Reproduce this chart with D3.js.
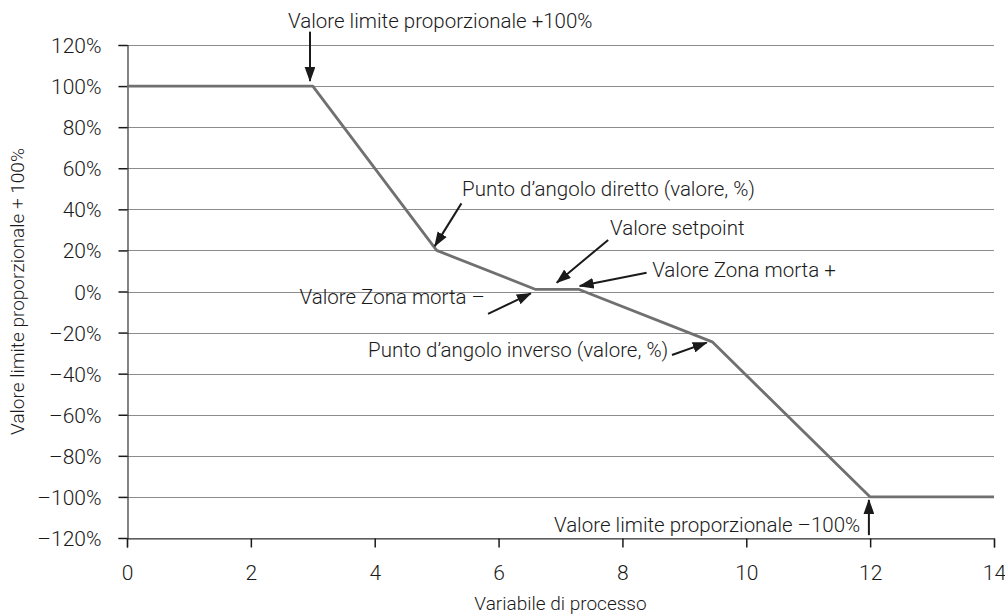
<!DOCTYPE html>
<html>
<head>
<meta charset="utf-8">
<script src="https://cdn.jsdelivr.net/npm/d3@7"></script>
<style>
  body { margin: 0; background: #fff; }
  svg { display: block; font-family: Roboto, "Liberation Sans", sans-serif; font-weight: 300; }
</style>
</head>
<body>
<div id="chart"></div>
<script>
// curve of the controller output
const processValues = [0, 3, 5, 6.6, 7.3, 9.45, 12, 14];
const outputValues = [100, 100, 20, 1, 1, -24.5, -100, -100];

const xTicks = [0, 2, 4, 6, 8, 10, 12, 14];
const yTicks = [-120, -100, -80, -60, -40, -20, 0, 20, 40, 60, 80, 100, 120];

// annotations: label, text anchor point, arrow tail, arrow tip (all in data units)
const annotationLabels = [
  "Valore limite proporzionale +100%",
  "Punto d\u2019angolo diretto (valore, %)",
  "Valore setpoint",
  "Valore Zona morta +",
  "Valore Zona morta \u2013",
  "Punto d\u2019angolo inverso (valore, %)",
  "Valore limite proporzionale \u2013100%",
];
const annotationText = [[2.6, 128.5], [5.41, 46.5], [7.8, 27.5], [8.48, 7.1], [5.78, -6.1], [8.74, -31.9], [11.84, -117.2]];
const annotationAnchor = ["start", "start", "start", "start", "end", "end", "end"];
const arrowFrom = [[2.955, 126.5], [5.40, 42.9], [7.77, 25.1], [8.39, 9.1], [5.83, -10.9], [8.80, -30.9], [11.98, -118.6]];
const arrowTo = [[2.955, 102.5], [4.97, 22.1], [6.94, 4.3], [7.31, 2.7], [6.52, -0.9], [9.36, -24.9], [11.98, -101.5]];

function createChart() {
  const width = 1005;
  const height = 616;
  const margin = { top: 45, right: 11, bottom: 78, left: 127 };
  const usable = {
    left: margin.left,
    right: width - margin.right,
    top: margin.top,
    bottom: height - margin.bottom,
  };

  const svg = d3
    .select("#chart")
    .append("svg")
    .attr("width", width)
    .attr("height", height);

  const xScale = d3.scaleLinear().domain([0, 14]).range([usable.left, usable.right]);
  const yScale = d3.scaleLinear().domain([-120, 120]).range([usable.bottom, usable.top]);

  svg
    .append("defs")
    .append("marker")
    .attr("id", "head")
    .attr("viewBox", "0 0 14 10")
    .attr("refX", 13)
    .attr("refY", 5)
    .attr("markerWidth", 15)
    .attr("markerHeight", 11)
    .attr("markerUnits", "userSpaceOnUse")
    .attr("orient", "auto")
    .append("path")
    .attr("d", "M0,0 L14,5 L0,10 z")
    .attr("fill", "#1a1a1a");

  // gridlines
  svg
    .append("g")
    .attr("class", "gridlines")
    .selectAll("line")
    .data(yTicks)
    .join("line")
    .attr("x1", usable.left)
    .attr("x2", usable.right)
    .attr("y1", (d) => Math.round(yScale(d)) + 0.5)
    .attr("y2", (d) => Math.round(yScale(d)) + 0.5)
    .style("stroke", "#8c8c8c")
    .style("stroke-width", 1);

  const yAxis = svg
    .append("g")
    .attr("transform", `translate(${usable.left + 0.5}, 0)`)
    .call(
      d3
        .axisLeft(yScale)
        .tickValues(yTicks)
        .tickSize(9)
        .tickPadding(17)
        .tickFormat((d) => (d < 0 ? "\u2013" + Math.abs(d) : d) + "%")
    );

  const xAxis = svg
    .append("g")
    .attr("transform", `translate(0, ${Math.round(usable.bottom) + 0.5})`)
    .call(d3.axisBottom(xScale).tickValues(xTicks).tickSize(9).tickPadding(18));

  [xAxis, yAxis].forEach((ax) => {
    ax.select(".domain").style("stroke", "#333").style("stroke-width", 1.2);
    ax.selectAll(".tick line").style("stroke", "#1a1a1a").style("stroke-width", 1.5);
    ax.selectAll(".tick text")
      .style("font-family", "Roboto, sans-serif")
      .style("font-weight", 300)
      .style("font-size", "21px")
      .style("fill", "#1a1a1a");
  });
  yAxis.selectAll(".tick text").attr("dy", "0.36em");

  // curve
  const line = d3
    .line()
    .x((d) => xScale(d[0]))
    .y((d) => yScale(d[1]));

  svg
    .append("path")
    .datum(d3.zip(processValues, outputValues))
    .attr("d", line)
    .attr("fill", "none")
    .style("stroke", "#707070")
    .style("stroke-width", 2.8)
    .style("stroke-linejoin", "round");

  // annotations
  const notes = svg.append("g").attr("class", "annotations");
  annotationLabels.forEach((label, i) => {
    notes
      .append("line")
      .attr("x1", xScale(arrowFrom[i][0]))
      .attr("y1", yScale(arrowFrom[i][1]))
      .attr("x2", xScale(arrowTo[i][0]))
      .attr("y2", yScale(arrowTo[i][1]))
      .style("stroke", "#1a1a1a")
      .style("stroke-width", 2)
      .attr("marker-end", "url(#head)");

    notes
      .append("text")
      .attr("x", xScale(annotationText[i][0]))
      .attr("y", yScale(annotationText[i][1]))
      .attr("text-anchor", annotationAnchor[i])
      .style("font-size", "20.5px")
      .style("fill", "#1a1a1a")
      .text(label);
  });

  // axis titles
  svg
    .append("text")
    .attr("x", (usable.left + usable.right) / 2)
    .attr("y", 610)
    .attr("text-anchor", "middle")
    .style("font-size", "19px")
    .style("fill", "#1a1a1a")
    .text("Variabile di processo");

  svg
    .append("text")
    .attr("transform", `translate(24, ${(usable.top + usable.bottom) / 2}) rotate(-90)`)
    .attr("text-anchor", "middle")
    .style("font-size", "19px")
    .style("fill", "#1a1a1a")
    .text("Valore limite proporzionale + 100%");
}

createChart();
</script>
</body>
</html>
